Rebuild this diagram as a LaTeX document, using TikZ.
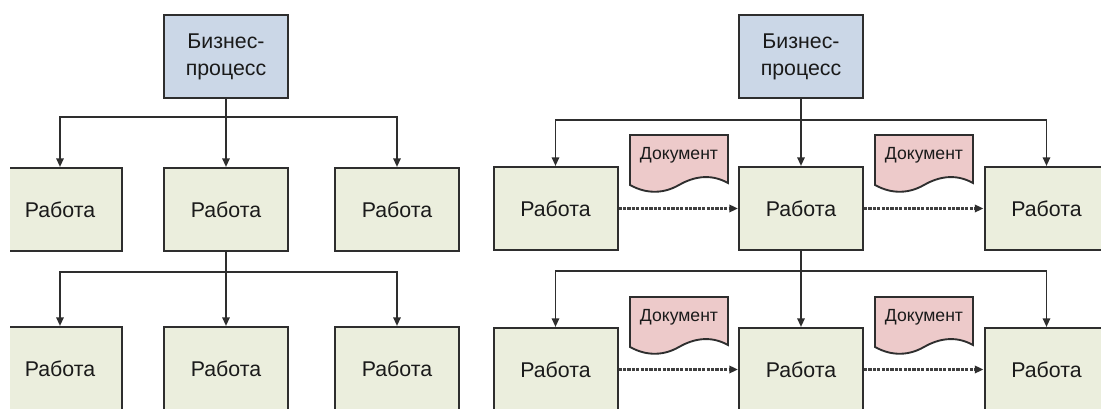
\documentclass[tikz,border=0pt]{standalone}
\usepackage{fontspec}
\setmainfont{Liberation Sans}
\usetikzlibrary{arrows.meta}
\definecolor{bpfill}{HTML}{CBD7E7}
\definecolor{wfill}{HTML}{EBEEDD}
\definecolor{dfill}{HTML}{EDCACA}
\definecolor{edge}{HTML}{2E2E2E}
\definecolor{txt}{HTML}{1A1A1A}
\definecolor{flowc}{HTML}{404040}
\newcommand\docnode[3]{%
  \draw[docshape,shift={(#2,#3)}] (0,0) -- (98,0) -- (98,48)
    .. controls (80,38) and (63,42) .. (49,50)
    .. controls (35,58) and (18,60) .. (0,50) -- cycle;
  \node[doctext] (#1) at (#2+49,#3+25) {Документ};}
\begin{document}
\begin{tikzpicture}[x=0.75pt,y=-0.75pt,
  box/.style={draw=edge, line width=1.5pt, minimum width=93pt, minimum height=62.25pt,
    inner sep=0pt, text=txt, font=\fontsize{16}{20.25}\selectfont, align=center},
  bpbox/.style={box, fill=bpfill},
  workbox/.style={box, fill=wfill},
  conn/.style={draw=edge, line width=1.4pt},
  arr/.style={conn, -{Triangle[length=6.5pt,width=5.5pt]}},
  flow/.style={draw=flowc, line width=1.8pt, dash pattern=on 2.4pt off 0.9pt,
    -{Triangle[length=6.5pt,width=5.5pt,color=edge]}},
  docshape/.style={draw=edge, line width=1.4pt, fill=dfill},
  doctext/.style={font=\fontsize{13.2}{15}\selectfont, text=txt, inner sep=0pt, anchor=base}
]
\useasboundingbox (0,0) rectangle (1101,409);
\clip (10,0) rectangle (1101,409);

% ---------- left panel ----------
\node[bpbox] (L0) at (226,56.5) {Бизнес-\\процесс};
\node[workbox] (L1) at (60,209.5) {Работа};
\node[workbox] (L2) at (226,209.5) {Работа};
\node[workbox] (L3) at (397,209.5) {Работа};
\node[workbox] (L4) at (60,368.5) {Работа};
\node[workbox] (L5) at (226,368.5) {Работа};
\node[workbox] (L6) at (397,368.5) {Работа};
\coordinate (Lj1) at (226,117);
\coordinate (Lj2) at (226,272);
\draw[arr] (L0.south) -- (L2.north);
\draw[arr] (Lj1) -| (L1.north);
\draw[arr] (Lj1) -| (L3.north);
\draw[arr] (L2.south) -- (L5.north);
\draw[arr] (Lj2) -| (L4.north);
\draw[arr] (Lj2) -| (L6.north);

% ---------- right panel ----------
\node[bpbox] (R0) at (801,57) {Бизнес-\\процесс};
\node[workbox] (R1) at (555.5,208.5) {Работа};
\node[workbox] (R2) at (801,208.5) {Работа};
\node[workbox] (R3) at (1046.5,208.5) {Работа};
\node[workbox] (R4) at (555.5,369.5) {Работа};
\node[workbox] (R5) at (801,369.5) {Работа};
\node[workbox] (R6) at (1046.5,369.5) {Работа};
\coordinate (Rj1) at (801,120);
\coordinate (Rj2) at (801,271);
\draw[arr] (R0.south) -- (R2.north);
\draw[arr] (Rj1) -| (R1.north);
\draw[arr] (Rj1) -| (R3.north);
\draw[arr] (R2.south) -- (R5.north);
\draw[arr] (Rj2) -| (R4.north);
\draw[arr] (Rj2) -| (R6.north);

\draw[flow] (R1.east) -- (R2.west);
\draw[flow] (R2.east) -- (R3.west);
\draw[flow] (R4.east) -- (R5.west);
\draw[flow] (R5.east) -- (R6.west);

\docnode{D1}{630}{135}
\docnode{D2}{875}{135}
\docnode{D3}{630}{297}
\docnode{D4}{875}{297}
\end{tikzpicture}
\end{document}
